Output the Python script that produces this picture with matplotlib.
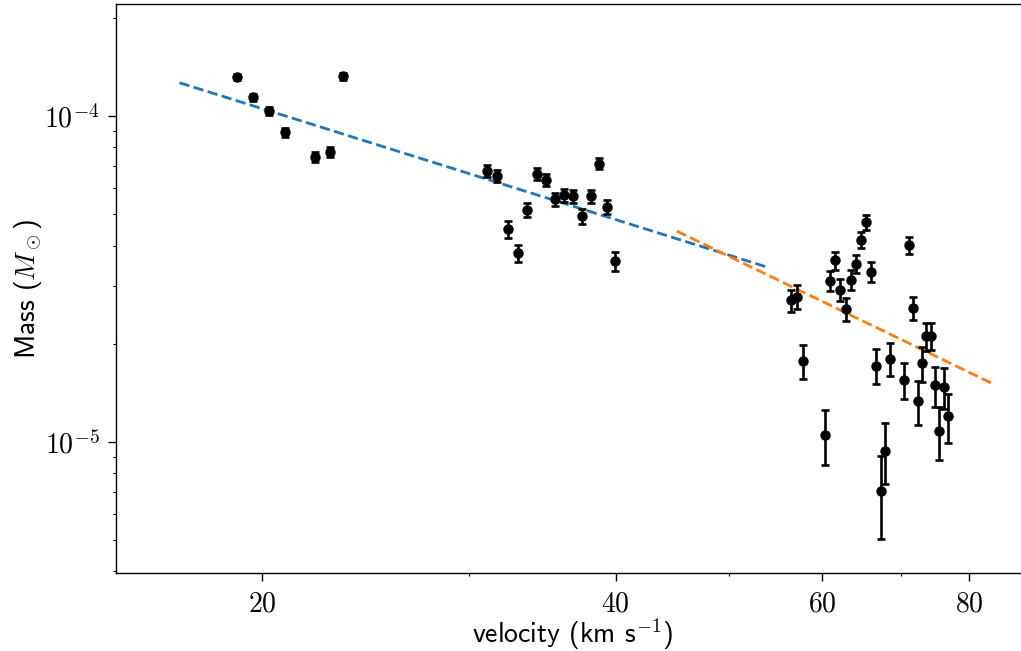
import numpy as np
import matplotlib
matplotlib.use('Agg')
import matplotlib.pyplot as plt
from matplotlib.ticker import FixedLocator, FixedFormatter, NullFormatter, LogLocator

plt.rcParams['mathtext.fontset'] = 'cm'

# velocities (km/s)
velocity = [19.02, 19.65, 20.28, 20.92, 22.19, 22.83, 23.44,
            31.10, 31.71, 32.37, 33.01, 33.63, 34.26, 34.89, 35.53, 36.17, 36.81,
            37.45, 38.09, 38.72, 39.33, 39.97,
            56.42, 57.12, 57.73, 60.31, 60.91, 61.54, 62.15, 62.81, 63.43, 64.09,
            64.72, 65.36, 66.01, 66.62, 67.27, 67.89, 68.55, 70.42, 71.11, 71.67,
            72.34, 72.99, 73.57, 74.25, 74.88, 75.47, 76.17, 76.77]
# masses (solar masses)
mass = [1.317e-4, 1.139e-4, 1.036e-4, 8.91e-5, 7.49e-5, 7.74e-5, 1.323e-4,
        6.78e-5, 6.55e-5, 4.49e-5, 3.79e-5, 5.14e-5, 6.64e-5, 6.35e-5, 5.54e-5, 5.71e-5, 5.67e-5,
        4.92e-5, 5.67e-5, 7.14e-5, 5.26e-5, 3.58e-5,
        2.72e-5, 2.79e-5, 1.77e-5, 1.05e-5, 3.12e-5, 3.60e-5, 2.93e-5, 2.56e-5, 3.14e-5, 3.52e-5,
        4.16e-5, 4.71e-5, 3.33e-5, 1.71e-5, 7.04e-6, 9.40e-6, 1.80e-5, 1.55e-5, 4.01e-5, 2.57e-5,
        1.33e-5, 1.74e-5, 2.11e-5, 2.11e-5, 1.49e-5, 1.08e-5, 1.47e-5, 1.20e-5]
mass_err = [3.0e-6, 3.0e-6, 3.0e-6, 2.9e-6, 2.8e-6, 2.8e-6, 3.0e-6,
            2.8e-6, 2.7e-6, 2.6e-6, 2.3e-6, 2.5e-6, 2.6e-6, 2.6e-6, 2.5e-6, 2.5e-6, 2.5e-6,
            2.5e-6, 2.5e-6, 2.7e-6, 2.5e-6, 2.4e-6,
            2.1e-6, 2.3e-6, 2.1e-6, 2.0e-6, 2.2e-6, 2.3e-6, 2.2e-6, 2.1e-6, 2.2e-6, 2.2e-6,
            2.3e-6, 2.5e-6, 2.3e-6, 2.1e-6, 2.0e-6, 2.0e-6, 2.1e-6, 2.0e-6, 2.3e-6, 2.1e-6,
            2.05e-6, 2.1e-6, 2.1e-6, 2.0e-6, 2.1e-6, 2.0e-6, 2.1e-6, 2.05e-6]

# power-law fits  M = norm * (v / v_ref)**index
fit1_norm, fit1_ref, fit1_index, fit1_range = 1.052e-4, 20.0, -1.13, (17.0, 54.0)
fit2_norm, fit2_ref, fit2_index, fit2_range = 2.696e-5, 60.0, -1.74, (45.1, 84.1)

fig = plt.figure(figsize=(10.21, 6.51), dpi=100)
ax = fig.add_axes([0.1133, 0.1194, 0.8946, 0.874])

v1 = np.geomspace(*fit1_range, 100)
ax.plot(v1, fit1_norm * (v1 / fit1_ref) ** fit1_index, '--', color='#1f77b4', lw=2.0)
v2 = np.geomspace(*fit2_range, 100)
ax.plot(v2, fit2_norm * (v2 / fit2_ref) ** fit2_index, '--', color='#ff7f0e', lw=2.0)

ax.errorbar(velocity, mass, yerr=mass_err, fmt='o', color='black', ms=6.5,
            elinewidth=1.9, capsize=2.8, capthick=1.9)

ax.set_xscale('log')
ax.set_yscale('log')
ax.set_xlim(15, 90)
ax.set_ylim(3.95e-6, 2.2e-4)

ax.xaxis.set_major_locator(FixedLocator([20, 40, 60, 80]))
ax.xaxis.set_major_formatter(FixedFormatter([r'$20$', r'$40$', r'$60$', r'$80$']))
ax.xaxis.set_minor_locator(FixedLocator([30, 50, 70]))
ax.xaxis.set_minor_formatter(NullFormatter())
ax.yaxis.set_major_locator(FixedLocator([1e-5, 1e-4]))
ax.yaxis.set_major_formatter(FixedFormatter([r'$10^{-5}$', r'$10^{-4}$']))
ax.yaxis.set_minor_locator(LogLocator(base=10, subs=np.arange(2, 10)))
ax.yaxis.set_minor_formatter(NullFormatter())

ax.tick_params(which='major', length=5.5, width=1.0, labelsize=20, pad=6)
ax.tick_params(which='minor', length=2.5, width=0.8)
for s in ax.spines.values():
    s.set_linewidth(1.0)

ax.set_xlabel(r'velocity (km s$^{-1}$)', fontsize=20, family='cmss10', labelpad=-0.5)
ax.set_ylabel(r'Mass ($M_\odot$)', fontsize=20, family='cmss10', labelpad=0.5)

fig.savefig('out.png', dpi=100)
